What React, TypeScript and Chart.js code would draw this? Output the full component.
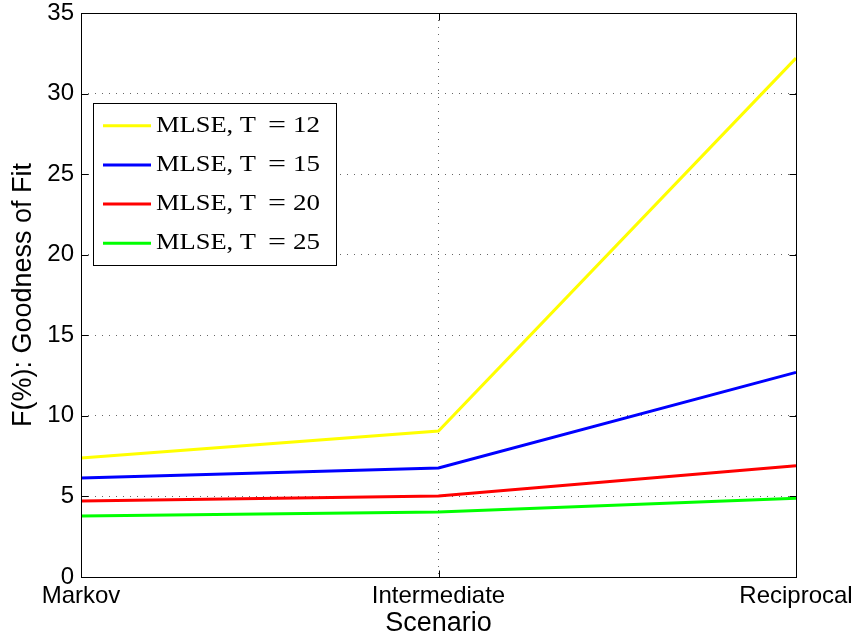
import React, { useEffect, useRef } from "react";
import { Chart, registerables } from "chart.js";

Chart.register(...registerables);

const categories = ["Markov", "Intermediate", "Reciprocal"];
const seriesT12 = [7.39, 9.06, 32.2];
const seriesT15 = [6.15, 6.77, 12.7];
const seriesT20 = [4.72, 5.03, 6.91];
const seriesT25 = [3.79, 4.03, 4.88];
const seriesLabels = ["MLSE, T = 12", "MLSE, T = 15", "MLSE, T = 20", "MLSE, T = 25"];
const seriesColors = ["#ffff00", "#0000ff", "#ff0000", "#00ff00"];
const yMin = 0;
const yMax = 35;
const yStep = 5;
const xTitle = "Scenario";
const yTitle = "F(%): Goodness of Fit";

const SANS = "'Liberation Sans', Arial, Helvetica, sans-serif";
const SERIF = "'Liberation Serif', 'Times New Roman', serif";

function fitText(ctx: CanvasRenderingContext2D, text: string, x: number, y: number, w: number) {
  const m = ctx.measureText(text).width || 1;
  const s = w / m;
  ctx.save();
  ctx.translate(x, y);
  ctx.scale(s, 1);
  ctx.textAlign = "left";
  ctx.fillText(text, 0, 0);
  ctx.restore();
}

const framePlugin = {
  id: "matlabFrame",
  afterDraw(chart: any) {
    const { ctx, chartArea } = chart;
    const l = Math.round(chartArea.left) + 0.5;
    const r = Math.round(chartArea.right) + 0.5;
    const t = Math.round(chartArea.top) + 0.5;
    const b = Math.round(chartArea.bottom) + 0.5;
    ctx.save();
    ctx.setLineDash([]);
    ctx.strokeStyle = "#000";
    ctx.lineWidth = 1;
    ctx.strokeRect(l, t, r - l, b - t);
    const tick = 7;
    const ys = chart.scales.y;
    ctx.beginPath();
    ys.ticks.forEach((tk: any) => {
      const py = Math.round(ys.getPixelForValue(tk.value)) + 0.5;
      ctx.moveTo(l, py);
      ctx.lineTo(l + tick, py);
      ctx.moveTo(r, py);
      ctx.lineTo(r - tick, py);
    });
    const xs = chart.scales.x;
    xs.ticks.forEach((_tk: any, i: number) => {
      const px = Math.round(xs.getPixelForTick(i)) + 0.5;
      ctx.moveTo(px, b);
      ctx.lineTo(px, b - tick);
      ctx.moveTo(px, t);
      ctx.lineTo(px, t + tick);
    });
    ctx.stroke();

    // legend box
    const bx = 93.5, by = 103.5, bw = 243, bh = 162;
    ctx.fillStyle = "#fff";
    ctx.fillRect(bx, by, bw, bh);
    ctx.strokeStyle = "#000";
    ctx.lineWidth = 1;
    ctx.strokeRect(bx, by, bw, bh);
    ctx.font = `23px ${SERIF}`;
    ctx.textBaseline = "alphabetic";
    chart.data.datasets.forEach((ds: any, i: number) => {
      const base = 131.7 + i * 39.2;
      const ly = base - 6;
      ctx.strokeStyle = ds.borderColor;
      ctx.lineWidth = 3;
      ctx.beginPath();
      ctx.moveTo(103, ly);
      ctx.lineTo(151, ly);
      ctx.stroke();
      const parts = String(ds.label).split(" = ");
      ctx.fillStyle = "#000";
      fitText(ctx, parts[0], 156, base, 100);
      fitText(ctx, "=", 268, base, 18);
      fitText(ctx, parts[1] || "", 293, base, 27);
    });
    ctx.restore();
  },
};

export default function App() {
  const ref = useRef<HTMLCanvasElement>(null);
  useEffect(() => {
    document.body.style.margin = "0";
    const canvas = ref.current!;
    const values = [seriesT12, seriesT15, seriesT20, seriesT25];
    const chart = new Chart(canvas, {
      type: "line",
      data: {
        labels: categories,
        datasets: values.map((v, i) => ({
          label: seriesLabels[i],
          data: v,
          borderColor: seriesColors[i],
          backgroundColor: seriesColors[i],
          borderWidth: 3,
          pointRadius: 0,
          tension: 0,
          fill: false,
        })),
      },
      options: {
        animation: false,
        responsive: false,
        devicePixelRatio: 1,
        layout: { padding: { left: 0, top: 13, right: 65, bottom: 0 } },
        plugins: {
          legend: { display: false },
          tooltip: { enabled: false },
        },
        scales: {
          x: {
            type: "category",
            offset: false,
            grid: {
              color: "rgba(0,0,0,0.6)",
              lineWidth: 1,
              drawTicks: false,
            },
            border: { display: false, dash: [1, 6] },
            ticks: {
              color: "#000",
              font: { family: SANS, size: 24 },
              padding: 5,
              maxRotation: 0,
              autoSkip: false,
            },
            title: {
              display: true,
              text: xTitle,
              color: "#000",
              font: { family: SANS, size: 27 },
              padding: { top: 0, bottom: 4 },
            },
            afterFit: (s: any) => {
              s.height = 67;
              s.paddingLeft = 0;
              s.paddingRight = 0;
            },
          },
          y: {
            min: yMin,
            max: yMax,
            grid: {
              color: "rgba(0,0,0,0.6)",
              lineWidth: 1,
              drawTicks: false,
            },
            border: { display: false, dash: [1, 6] },
            ticks: {
              stepSize: yStep,
              color: "#000",
              font: { family: SANS, size: 24 },
              padding: 7,
            },
            title: {
              display: true,
              text: yTitle,
              color: "#000",
              font: { family: SANS, size: 27 },
              padding: { top: 7, bottom: 0 },
            },
            afterFit: (s: any) => {
              s.width = 81;
              s.paddingTop = 0;
              s.paddingBottom = 0;
            },
          },
        },
      },
      plugins: [framePlugin],
    });
    return () => chart.destroy();
  }, []);
  return (
    <div style={{ position: "absolute", left: 0, top: 0, width: 861, height: 644, background: "#fff" }}>
      <canvas ref={ref} width={861} height={644} style={{ display: "block", width: 861, height: 644 }} />
    </div>
  );
}
